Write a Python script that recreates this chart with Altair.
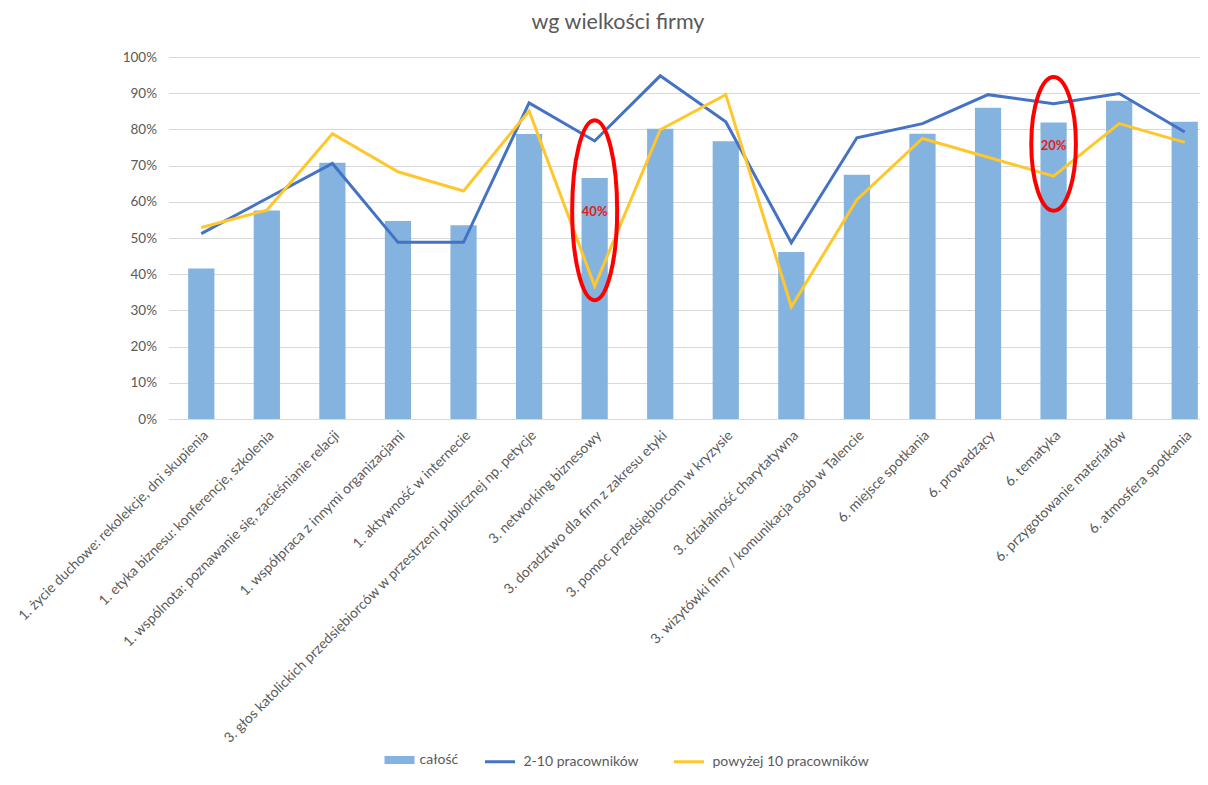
import altair as alt
import pandas as pd

categories = [
    "1. życie duchowe: rekolekcje, dni skupienia",
    "1. etyka biznesu: konferencje, szkolenia",
    "1. wspólnota: poznawanie się, zacieśnianie relacji",
    "1. współpraca z innymi organizacjami",
    "1. aktywność w internecie",
    "3. głos katolickich przedsiębiorców w przestrzeni publicznej np. petycje",
    "3. networking biznesowy",
    "3. doradztwo dla firm z zakresu etyki",
    "3. pomoc przedsiębiorcom w kryzysie",
    "3. działalność charytatywna",
    "3. wizytówki firm / komunikacja osób w Talencie",
    "6. miejsce spotkania",
    "6. prowadzący",
    "6. tematyka",
    "6. przygotowanie materiałów",
    "6. atmosfera spotkania",
]
series_names = ["całość", "2-10 pracowników", "powyżej 10 pracowników"]
calosc = [41.6, 57.6, 70.8, 54.7, 53.5, 78.7, 66.6, 80.2, 76.7, 46.1, 67.5, 78.8, 86.0, 81.9, 87.9, 82.1]
small = [51.2, 60.9, 70.6, 48.8, 48.8, 87.3, 76.8, 94.8, 82.1, 48.7, 77.7, 81.6, 89.6, 87.1, 89.9, 79.3]
large = [52.9, 57.7, 78.8, 68.3, 63.0, 85.1, 36.7, 79.9, 89.6, 31.0, 60.6, 77.5, 72.3, 67.1, 81.6, 76.4]
y_ticks = [0, 0.1, 0.2, 0.3, 0.4, 0.5, 0.6, 0.7, 0.8, 0.9, 1.0]

ann_cats = ["3. networking biznesowy", "6. tematyka"]
ann_labels = ["40%", "20%"]
ann_text_y = [57.3, 75.5]
ann_ellipse_y = [57.7, 76.0]

BAR = "#83B3DE"
BLUE = "#4472C4"
YELLOW = "#FFC72C"
TXT = "#595959"
GRID = "#D9D9D9"
FONT = "Lato"

bars_df = pd.DataFrame({"cat": categories, "value": [v / 100 for v in calosc], "series": series_names[0]})
lines_df = pd.concat([
    pd.DataFrame({"cat": categories, "value": [v / 100 for v in small], "series": series_names[1]}),
    pd.DataFrame({"cat": categories, "value": [v / 100 for v in large], "series": series_names[2]}),
])

x_enc = alt.X(
    "cat:N", sort=categories,
    scale=alt.Scale(paddingInner=0.6, paddingOuter=0.3),
    axis=alt.Axis(title=None, labelAngle=-45, labelLimit=600, ticks=False, labelPadding=9,
                  labelFont=FONT, labelFontSize=14, labelColor=TXT,
                  domainColor=GRID, grid=False),
)
y_enc = alt.Y(
    "value:Q", scale=alt.Scale(domain=[0, 1], nice=False),
    axis=alt.Axis(title=None, values=y_ticks, format=".0%", ticks=False, domain=False,
                  labelPadding=12, labelFont=FONT, labelFontSize=13.5, labelColor=TXT,
                  gridColor=GRID, gridWidth=1),
)

bars = alt.Chart(bars_df).mark_bar(color=BAR).encode(
    x=x_enc, y=y_enc,
    color=alt.Color("series:N", scale=alt.Scale(domain=[series_names[0]], range=[BAR]),
                    legend=alt.Legend(title=None, orient="none", legendX=216, legendY=688, padding=0,
                                      symbolType="M-1,-0.27H1V0.27H-1Z", symbolSize=900,
                                      symbolStrokeWidth=0, labelOffset=5,
                                      labelFont=FONT, labelFontSize=14, labelColor=TXT)),
)

lines = alt.Chart(lines_df).mark_line(strokeWidth=3).encode(
    x=x_enc, y=y_enc,
    color=alt.Color("series:N", scale=alt.Scale(domain=series_names[1:], range=[BLUE, YELLOW]),
                    legend=alt.Legend(title=None, orient="none", direction="horizontal",
                                      legendX=315, legendY=688, padding=0, columnPadding=28,
                                      symbolType="stroke", symbolSize=900, symbolStrokeWidth=3,
                                      labelOffset=7,
                                      labelFont=FONT, labelFontSize=14, labelColor=TXT)),
)

layers = [bars, lines]
ell_shapes = [
    "M-0.25,0A0.25,1,0,1,0,0.25,0A0.25,1,0,1,0,-0.25,0Z",
    "M-0.334,0A0.334,1,0,1,0,0.334,0A0.334,1,0,1,0,-0.334,0Z",
]
ell_sizes = [32400, 17850]
for i in range(len(ann_cats)):
    edf = pd.DataFrame({"cat": [ann_cats[i]], "value": [ann_ellipse_y[i] / 100]})
    layers.append(
        alt.Chart(edf).mark_point(shape=ell_shapes[i], size=ell_sizes[i], filled=False,
                                  stroke="#FF0000", strokeWidth=4, opacity=1).encode(x=x_enc, y=y_enc)
    )
tdf = pd.DataFrame({"cat": ann_cats, "value": [v / 100 for v in ann_text_y], "label": ann_labels})
layers.append(
    alt.Chart(tdf).mark_text(color="#E0201B", fontWeight="bold", fontSize=13, font=FONT).encode(
        x=x_enc, y=y_enc, text="label:N")
)

chart = alt.layer(*layers).resolve_scale(color="independent").properties(
    width=1049, height=362,
    autosize=alt.AutoSizeParams(type="none"),
    padding={"left": 160.5, "top": 49, "right": -18, "bottom": 352},
    title=alt.TitleParams("wg wielkości firmy", anchor="middle", dx=-75, offset=17,
                          font=FONT, fontSize=21.5, fontWeight="normal", color=TXT),
).configure_view(stroke=None)

chart.save("out.html", embed_options={"renderer": "svg", "actions": False})
